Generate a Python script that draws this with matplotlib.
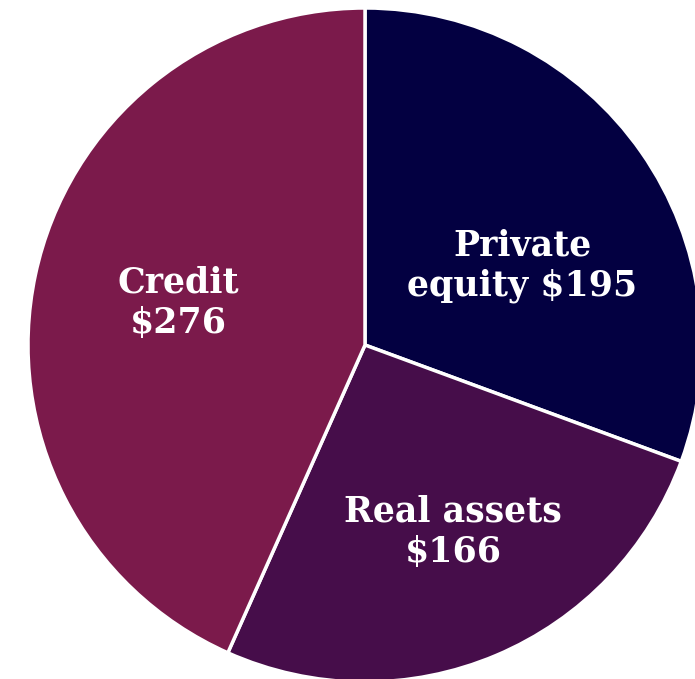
import matplotlib
matplotlib.use('Agg')
import matplotlib.pyplot as plt

labels = ['Private\nequity $195', 'Real assets\n$166', 'Credit\n$276']
values = [195, 166, 276]
colors = ['#030041', '#460D4A', '#7B1A4B']

fig = plt.figure(figsize=(6.95, 6.79), dpi=100)
# pie centre at (365, 345) px, radius ~337 px
ax = fig.add_axes([28 / 695, -3 / 679, 674 / 695, 674 / 679])
ax.axis('off')

wedges, _ = ax.pie(values, colors=colors, startangle=90, counterclock=False,
                   radius=1, wedgeprops=dict(edgecolor='white', linewidth=2.5))
ax.set_xlim(-1, 1)
ax.set_ylim(-1, 1)

label_pos = [(0.466, 0.235), (0.261, -0.555), (-0.555, 0.125)]
for text, (x, y) in zip(labels, label_pos):
    ax.text(x, y, text, ha='center', va='center', color='white',
            fontsize=25, fontweight='bold', family='DejaVu Serif',
            linespacing=1.25)

fig.savefig('out.png', dpi=100)
